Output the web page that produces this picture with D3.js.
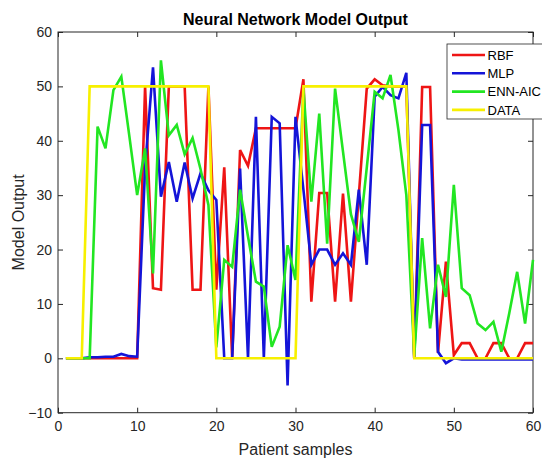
<!DOCTYPE html>
<html>
<head>
<meta charset="utf-8">
<script src="https://cdn.jsdelivr.net/npm/d3@7"></script>
<style>
	body { margin: 0; background: #fff; }
	svg { display: block; font-family: "Liberation Sans", Arial, Helvetica, sans-serif; }
</style>
</head>
<body>
<script>
// sample index on x, model output on y
const samples = d3.range(1, 61);

const rbf = [0,0,0,0,0,0,0,0,0,0,
	50,12.9,12.6,50,50,50,12.6,12.6,50,12.6,
	35.1,0,38.3,35.4,42.3,42.3,42.3,42.3,42.3,42.3,
	51.3,10.4,30.4,30.4,10.4,30.3,10.4,30,49.6,51.3,
	50.2,50,50,50,0,49.9,49.9,1,17.8,0.6,
	2.8,2.8,0,0,2.8,2.8,0,0,2.8,2.8];

const mlp = [0,0,0,0.2,0.2,0.3,0.3,0.8,0.4,0.3,
	35,53.5,29.7,36.1,28.8,36,29.4,34,30.9,29.1,
	0,0,34.9,0,44.4,0,44.4,43.2,-5,44.4,
	31,17.2,20,20,17.2,19.3,17.2,31,17.2,48.1,
	49.9,48.4,47.8,52.5,0,42.9,42.9,1.2,-0.9,0,
	-0.2,-0.2,-0.2,-0.2,-0.2,-0.2,-0.2,-0.2,-0.2,-0.2];

const ennAic = [0,0,0,0,42.6,38.6,49.3,51.8,41,30,
	38.6,15.6,54.8,41,42.9,37.5,40.5,34.8,28.2,2,
	18.1,16.8,31,22.4,14.1,13.2,2.1,5.8,20.8,14.4,
	49.6,28.8,45,21.1,49.6,38,26.5,21.4,35,49,
	47.8,52.1,42,30,0.5,22.1,5.5,17.2,11.3,31.9,
	12.9,11.6,6.4,5.2,6.7,1.2,8.3,15.9,6.4,18.1];

const target = [0,0,0,50,50,50,50,50,50,50,
	50,50,50,50,50,50,50,50,50,0,
	0,0,0,0,0,0,0,0,0,0,
	50,50,50,50,50,50,50,50,50,50,
	50,50,50,50,0,0,0,0,0,0,
	0,0,0,0,0,0,0,0,0,0];

const seriesNames = ["RBF", "MLP", "ENN-AIC", "DATA"];
const seriesColors = ["#ee1515", "#1414d8", "#22e622", "#f7f000"];
const seriesValues = [rbf, mlp, ennAic, target];

const xTicks = [0, 10, 20, 30, 40, 50, 60];
const yTicks = [-10, 0, 10, 20, 30, 40, 50, 60];

const W = 542, H = 458;
const margin = {top: 32, right: 9, bottom: 45.3, left: 58};
const axisColor = "#262626";

let svg = d3.select("body")
	.append("svg")
	.attr("width", W)
	.attr("height", H);

//scales
const x = d3.scaleLinear()
	.domain([0, 60])
	.range([margin.left, W - margin.right]);

const y = d3.scaleLinear()
	.domain([-10, 60])
	.range([H - margin.bottom, margin.top]);

//axes, ticks pointing inward on all four sides
const xAxis = d3.axisBottom(x).tickValues(xTicks).tickSizeInner(-5).tickSizeOuter(0).tickPadding(8);
const xAxisTop = d3.axisTop(x).tickValues(xTicks).tickSizeInner(-5).tickSizeOuter(0).tickFormat("");
const yAxis = d3.axisLeft(y).tickValues(yTicks).tickSizeInner(-5).tickSizeOuter(0).tickPadding(6);
const yAxisRight = d3.axisRight(y).tickValues(yTicks).tickSizeInner(-5).tickSizeOuter(0).tickFormat("");

function styleAxis(g) {
	g.select(".domain").remove();
	g.selectAll(".tick line").attr("stroke", axisColor);
	g.selectAll(".tick text")
		.attr("fill", axisColor)
		.attr("font-size", 14)
		.attr("font-family", "Liberation Sans, Arial, sans-serif");
}

svg.append("g")
	.attr("transform", `translate(0,${H - margin.bottom})`)
	.call(xAxis)
	.call(styleAxis);

svg.append("g")
	.attr("transform", `translate(0,${margin.top})`)
	.call(xAxisTop)
	.call(styleAxis);

svg.append("g")
	.attr("transform", `translate(${margin.left},0)`)
	.call(yAxis)
	.call(styleAxis);

svg.append("g")
	.attr("transform", `translate(${W - margin.right},0)`)
	.call(yAxisRight)
	.call(styleAxis);

//box
svg.append("rect")
	.attr("x", margin.left)
	.attr("y", margin.top)
	.attr("width", W - margin.right - margin.left)
	.attr("height", H - margin.bottom - margin.top)
	.attr("fill", "none")
	.attr("stroke", axisColor)
	.attr("stroke-width", 1);

//lines
const line = d3.line()
	.x((d, i) => x(samples[i]))
	.y(d => y(d));

svg.append("g")
	.selectAll("path")
	.data(seriesValues)
	.join("path")
		.attr("fill", "none")
		.attr("stroke", (d, i) => seriesColors[i])
		.attr("stroke-width", 2.6)
		.attr("stroke-linejoin", "miter")
		.attr("d", line);

//title and axis labels
svg.append("text")
	.attr("x", (margin.left + W - margin.right) / 2)
	.attr("y", 25)
	.attr("text-anchor", "middle")
	.attr("font-size", 16)
	.attr("font-weight", "bold")
	.attr("fill", "#000")
	.text("Neural Network Model Output");

svg.append("text")
	.attr("x", (margin.left + W - margin.right) / 2)
	.attr("y", 455)
	.attr("text-anchor", "middle")
	.attr("font-size", 16)
	.attr("fill", axisColor)
	.text("Patient samples");

svg.append("text")
	.attr("transform", `translate(24,${(margin.top + H - margin.bottom) / 2}) rotate(-90)`)
	.attr("text-anchor", "middle")
	.attr("font-size", 16)
	.attr("fill", axisColor)
	.text("Model Output");

//legend
const legend = svg.append("g")
	.attr("transform", "translate(447,44)");

legend.append("rect")
	.attr("width", 110)
	.attr("height", 75)
	.attr("fill", "#fff")
	.attr("stroke", axisColor)
	.attr("stroke-width", 0.8);

const entry = legend.selectAll("g")
	.data(seriesNames)
	.join("g")
		.attr("transform", (d, i) => `translate(0,${11 + i * 18.3})`);

entry.append("line")
	.attr("x1", 5)
	.attr("x2", 38)
	.attr("stroke", (d, i) => seriesColors[i])
	.attr("stroke-width", 2.6);

entry.append("text")
	.attr("x", 40.5)
	.attr("dy", "0.36em")
	.attr("font-size", 13)
	.attr("fill", "#000")
	.text(d => d);
</script>
</body>
</html>
